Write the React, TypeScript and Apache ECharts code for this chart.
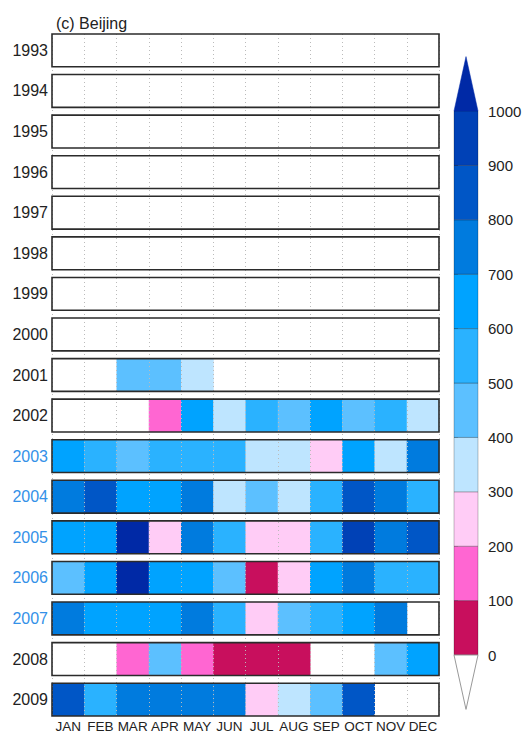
import { useEffect, useRef } from "react";
import * as echarts from "echarts";

const TITLE = "(c) Beijing";
const MONTHS = ["JAN", "FEB", "MAR", "APR", "MAY", "JUN", "JUL", "AUG", "SEP", "OCT", "NOV", "DEC"];
const YEARS = ["1993", "1994", "1995", "1996", "1997", "1998", "1999", "2000", "2001", "2002", "2003", "2004", "2005", "2006", "2007", "2008", "2009"];
const HIGHLIGHT_YEARS = ["2003", "2004", "2005", "2006", "2007"];

// Monthly values per year (null = no data)
const v1993 = [null, null, null, null, null, null, null, null, null, null, null, null];
const v1994 = [null, null, null, null, null, null, null, null, null, null, null, null];
const v1995 = [null, null, null, null, null, null, null, null, null, null, null, null];
const v1996 = [null, null, null, null, null, null, null, null, null, null, null, null];
const v1997 = [null, null, null, null, null, null, null, null, null, null, null, null];
const v1998 = [null, null, null, null, null, null, null, null, null, null, null, null];
const v1999 = [null, null, null, null, null, null, null, null, null, null, null, null];
const v2000 = [null, null, null, null, null, null, null, null, null, null, null, null];
const v2001 = [null, null, 450, 450, 350, null, null, null, null, null, null, null];
const v2002 = [null, null, null, 150, 650, 350, 550, 450, 650, 450, 550, 350];
const v2003 = [650, 550, 450, 550, 550, 550, 350, 350, 250, 650, 350, 750];
const v2004 = [750, 850, 650, 650, 750, 350, 450, 350, 550, 850, 750, 550];
const v2005 = [650, 650, 1050, 250, 750, 550, 250, 250, 550, 950, 750, 850];
const v2006 = [450, 650, 1050, 650, 650, 450, 50, 250, 650, 750, 550, 550];
const v2007 = [750, 650, 650, 650, 750, 550, 250, 450, 550, 650, 750, null];
const v2008 = [null, null, 150, 450, 150, 50, 50, 50, null, null, 450, 650];
const v2009 = [850, 550, 750, 750, 750, 750, 250, 350, 450, 850, null, null];

const ROWS = [v1993, v1994, v1995, v1996, v1997, v1998, v1999, v2000, v2001, v2002, v2003, v2004, v2005, v2006, v2007, v2008, v2009];

// Colour classes
const CLASS_BREAKS = [0, 100, 200, 300, 400, 500, 600, 700, 800, 900, 1000];
const CLASS_COLORS = [
  "#C80F5D", "#FF66D2", "#FFCCF6", "#BEE5FF", "#5CC0FF",
  "#2AB2FF", "#00A3FF", "#007BDE", "#0056C6", "#0041B6",
];
const OVER_COLOR = "#0029A6";

const FONT = "'Liberation Sans', Arial, Helvetica, sans-serif";
const BOX_H = 0.809; // box height as a fraction of the row pitch

function colorFor(v: number): string {
  if (v >= CLASS_BREAKS[CLASS_BREAKS.length - 1]) return OVER_COLOR;
  for (let i = 0; i < CLASS_BREAKS.length - 1; i++) {
    if (v >= CLASS_BREAKS[i] && v < CLASS_BREAKS[i + 1]) return CLASS_COLORS[i];
  }
  return CLASS_COLORS[0];
}

export default function App() {
  const ref = useRef<HTMLDivElement>(null);

  useEffect(() => {
    if (!ref.current) return;
    const chart = echarts.init(ref.current, null, { renderer: "svg" });

    const cellData: number[][] = [];
    ROWS.forEach((row, r) => {
      row.forEach((v, m) => {
        if (v !== null && v !== undefined) cellData.push([m, r, v as number]);
      });
    });
    const boxData = YEARS.map((_, r) => [0, r, r]);
    const barData = CLASS_COLORS.map((_, i) => [0, CLASS_BREAKS[i], i]);
    const lastBreak = CLASS_BREAKS[CLASS_BREAKS.length - 1];
    const step = CLASS_BREAKS[1] - CLASS_BREAKS[0];

    const option: any = {
      animation: false,
      backgroundColor: "#ffffff",
      title: {
        text: TITLE,
        left: 51,
        top: 10,
        textStyle: { fontSize: 16, fontWeight: "normal", color: "#222", fontFamily: FONT },
      },
      grid: [
        { left: 52, right: 89, top: 34, bottom: 14 },
        { left: 454, width: 24, top: 111, bottom: 78 },
      ],
      xAxis: [
        {
          gridIndex: 0,
          type: "category",
          data: MONTHS,
          boundaryGap: true,
          z: 5,
          axisLine: { show: false },
          axisTick: { show: false },
          axisLabel: {
            interval: 0,
            margin: 3,
            fontSize: 13.5,
            color: "#222",
            fontFamily: FONT,
          },
          splitLine: {
            show: true,
            interval: 0,
            lineStyle: { type: [1, 3], color: "#bbb", width: 1 },
          },
        },
        { gridIndex: 1, type: "value", min: 0, max: 1, show: false },
      ],
      yAxis: [
        { gridIndex: 0, type: "value", min: 0, max: YEARS.length - 1 + BOX_H, inverse: true, show: false },
        {
          gridIndex: 1,
          type: "value",
          min: CLASS_BREAKS[0],
          max: lastBreak,
          interval: step,
          position: "right",
          axisLine: { show: false },
          axisTick: { show: true, length: 4, lineStyle: { color: "#777", width: 1 } },
          axisLabel: {
            margin: 10,
            fontSize: 15,
            color: "#222",
            fontFamily: FONT,
            formatter: (v: number) => String(v),
          },
          splitLine: { show: false },
        },
      ],
      series: [
        {
          type: "custom",
          name: "cells",
          xAxisIndex: 0,
          yAxisIndex: 0,
          z: 2,
          encode: { x: 0, y: 1 },
          data: cellData,
          renderItem: (params: any, api: any) => {
            const m = api.value(0);
            const r = api.value(1);
            const v = api.value(2);
            const p = api.coord([m, r]);
            const w = api.size([1, 0])[0];
            const h = api.size([0, BOX_H])[1];
            return {
              type: "rect",
              shape: { x: p[0] - w / 2, y: p[1], width: w + 0.5, height: h },
              style: { fill: colorFor(v) },
            };
          },
        },
        {
          type: "custom",
          name: "boxes",
          xAxisIndex: 0,
          yAxisIndex: 0,
          z: 8,
          clip: false,
          encode: { x: 0, y: 1 },
          data: boxData,
          renderItem: (params: any, api: any) => {
            const r = api.value(1);
            const idx = api.value(2);
            const p = api.coord([0, r]);
            const w = api.size([1, 0])[0];
            const h = api.size([0, BOX_H])[1];
            const left = p[0] - w / 2;
            const year = YEARS[idx];
            return {
              type: "group",
              children: [
                {
                  type: "rect",
                  shape: { x: left, y: p[1], width: w * MONTHS.length, height: h },
                  style: { fill: "none", stroke: "#2b2b2b", lineWidth: 1.6 },
                },
                {
                  type: "text",
                  x: left - 4,
                  y: p[1] + h / 2,
                  style: {
                    text: year,
                    align: "right",
                    verticalAlign: "middle",
                    fill: HIGHLIGHT_YEARS.includes(year) ? "#3391E8" : "#222",
                    fontSize: 16,
                    fontFamily: FONT,
                  },
                },
              ],
            };
          },
        },
        {
          type: "custom",
          name: "colorbar",
          xAxisIndex: 1,
          yAxisIndex: 1,
          z: 2,
          clip: false,
          encode: { x: 0, y: 1 },
          data: barData,
          renderItem: (params: any, api: any) => {
            const lo = api.value(1);
            const i = api.value(2);
            const hi = CLASS_BREAKS[i + 1];
            const p0 = api.coord([0, lo]);
            const p1 = api.coord([1, hi]);
            return {
              type: "rect",
              shape: { x: p0[0], y: p1[1], width: p1[0] - p0[0], height: p0[1] - p1[1] },
              style: { fill: CLASS_COLORS[i], stroke: "rgba(0,0,0,0.3)", lineWidth: 0.8 },
            };
          },
        },
        {
          type: "custom",
          name: "colorbar-ends",
          xAxisIndex: 1,
          yAxisIndex: 1,
          z: 2,
          clip: false,
          encode: { x: 0, y: 1 },
          data: [
            [0, lastBreak, 1],
            [0, CLASS_BREAKS[0], -1],
          ],
          renderItem: (params: any, api: any) => {
            const base = api.value(1);
            const dir = api.value(2);
            const a = api.coord([0, base]);
            const b = api.coord([1, base]);
            const apex = api.coord([0.5, base + dir * step]);
            const up = dir > 0;
            return {
              type: "polygon",
              shape: { points: [a, b, apex] },
              style: up
                ? { fill: OVER_COLOR, stroke: OVER_COLOR, lineWidth: 0.5 }
                : { fill: "#ffffff", stroke: "#999", lineWidth: 1 },
            };
          },
        },
      ],
    };

    chart.setOption(option);
    return () => chart.dispose();
  }, []);

  return (
    <div
      ref={ref}
      style={{ position: "fixed", left: 0, top: 0, width: 528, height: 733, background: "#fff" }}
    />
  );
}
